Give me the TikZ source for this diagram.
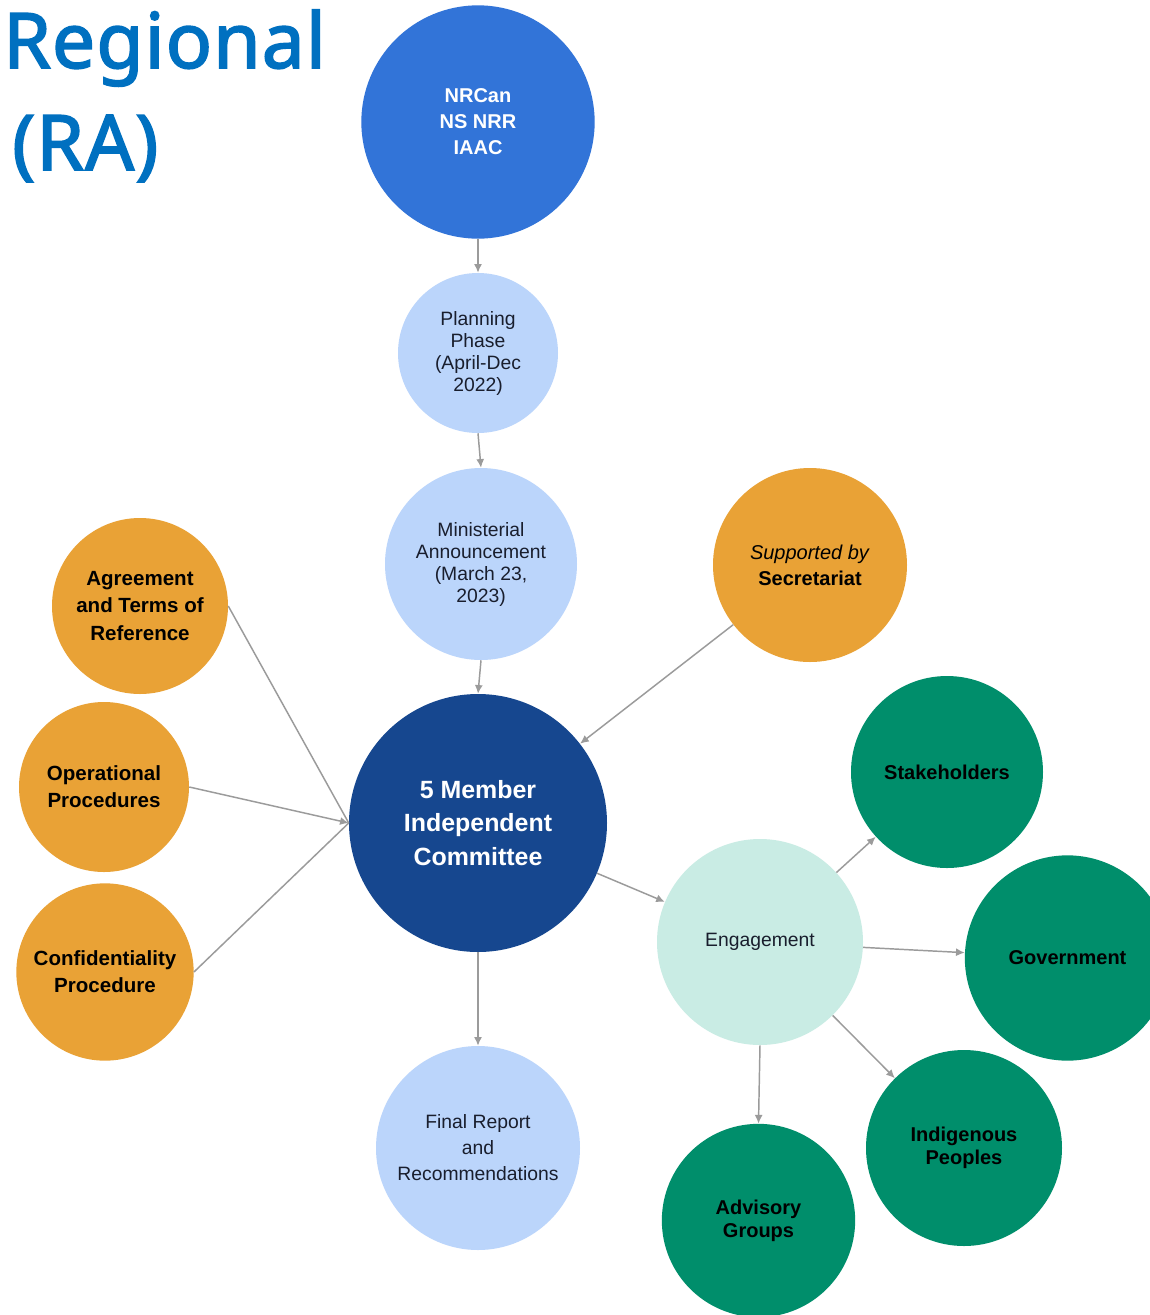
\documentclass[tikz,border=0pt]{standalone}
\usepackage{fontspec}
\setmainfont{Liberation Sans}
\newfontfamily\titlefont{Noto Sans}[FakeBold=2.2,LetterSpace=1.5]
\usetikzlibrary{arrows.meta}
\definecolor{titleblue}{RGB}{0,112,192}
\definecolor{topblue}{RGB}{50,116,216}
\definecolor{lightblue}{RGB}{187,213,251}
\definecolor{navy}{RGB}{22,71,143}
\definecolor{orangec}{RGB}{233,162,54}
\definecolor{mintc}{RGB}{201,236,228}
\definecolor{greenc}{RGB}{0,142,107}
\definecolor{arrowgray}{RGB}{155,155,155}
\definecolor{darktext}{RGB}{25,30,45}
\tikzset{
  bubble/.style={circle, draw=none, inner sep=0pt, align=center},
  lighttxt/.style={text=darktext, font=\fontsize{14.5}{16.5}\selectfont},
  boldtxt/.style={text=black, font=\bfseries\fontsize{15.4}{20.3}\selectfont},
  greentxt/.style={text=black, font=\bfseries\fontsize{15}{17.3}\selectfont},
  titletxt/.style={anchor=base west, inner sep=0pt, text=titleblue, font=\titlefont\fontsize{57.5}{60}\selectfont},
  conn/.style={draw=arrowgray, line width=1.1pt, -{Latex[length=6.5pt,width=6pt]}},
  plainconn/.style={draw=arrowgray, line width=1.1pt}
}
\begin{document}
\begin{tikzpicture}[x=0.75pt,y=-0.75pt]
\useasboundingbox (0,0) rectangle (1150,1315);
\fill[white] (0,0) rectangle (1150,1315);

% title
\node[titletxt] (title1) at (3,68) {Regional};
\node[titletxt] (title2) at (12,170) {(RA)};

% top chain
\node[bubble, fill=topblue, minimum size=175pt, text=white, font=\bfseries\fontsize{15}{19.5}\selectfont] (nrcan) at (478,122) {NRCan\\NS NRR\\IAAC};
\node[bubble, fill=lightblue, minimum size=120pt, lighttxt] (plan) at (478,353) {Planning\\Phase\\(April-Dec\\2022)};
\node[bubble, fill=lightblue, minimum size=144pt, lighttxt] (mini) at (481,564) {Ministerial\\Announcement\\(March 23,\\2023)};
\node[bubble, fill=navy, minimum size=193.5pt, text=white, font=\bfseries\fontsize{18.7}{25}\selectfont] (comm) at (478,823) {5 Member\\Independent\\Committee};
\node[bubble, fill=lightblue, minimum size=153pt, text=darktext, font=\fontsize{14.5}{19.5}\selectfont] (final) at (478,1148) {Final Report\\and\\Recommendations};

% orange
\node[bubble, fill=orangec, minimum size=145.5pt, text=black, font=\fontsize{15}{19.5}\selectfont] (secr) at (810,565) {\textit{Supported by}\\\textbf{Secretariat}};
\node[bubble, fill=orangec, minimum size=132pt, boldtxt] (agree) at (140,606) {Agreement\\and Terms of\\Reference};
\node[bubble, fill=orangec, minimum size=127.5pt, boldtxt] (oper) at (104,787) {Operational\\Procedures};
\node[bubble, fill=orangec, minimum size=133pt, boldtxt] (conf) at (105,972) {Confidentiality\\Procedure};

% engagement
\node[bubble, fill=mintc, minimum size=154.5pt, lighttxt] (eng) at (760,942) {Engagement};
\node[bubble, fill=greenc, minimum size=144pt, greentxt] (stake) at (947,772) {Stakeholders};
\node[bubble, fill=greenc, minimum size=154pt, greentxt] (gov) at (1067.5,958) {Government};
\node[bubble, fill=greenc, minimum size=147pt, greentxt] (indig) at (964,1148) {Indigenous\\Peoples};
\node[bubble, fill=greenc, minimum size=145pt, greentxt] (advis) at (758.5,1220.5) {Advisory\\Groups};

% connectors
\draw[conn] (nrcan) -- (plan);
\draw[conn] (plan.south) -- (mini.north);
\draw[conn] (mini.south) -- (comm.north);
\draw[conn] (comm) -- (final);
\draw[conn] (secr) -- (comm);
\draw[plainconn] (agree.east) -- (comm.west);
\draw[plainconn] (conf.east) -- (comm.west);
\draw[conn] (oper.east) -- (comm.west);
\draw[conn] (comm) -- (eng);
\draw[conn] (eng) -- (stake);
\draw[conn] (eng) -- (gov);
\draw[conn] (eng) -- (indig);
\draw[conn] (eng.south) -- (advis.north);
\end{tikzpicture}
\end{document}
